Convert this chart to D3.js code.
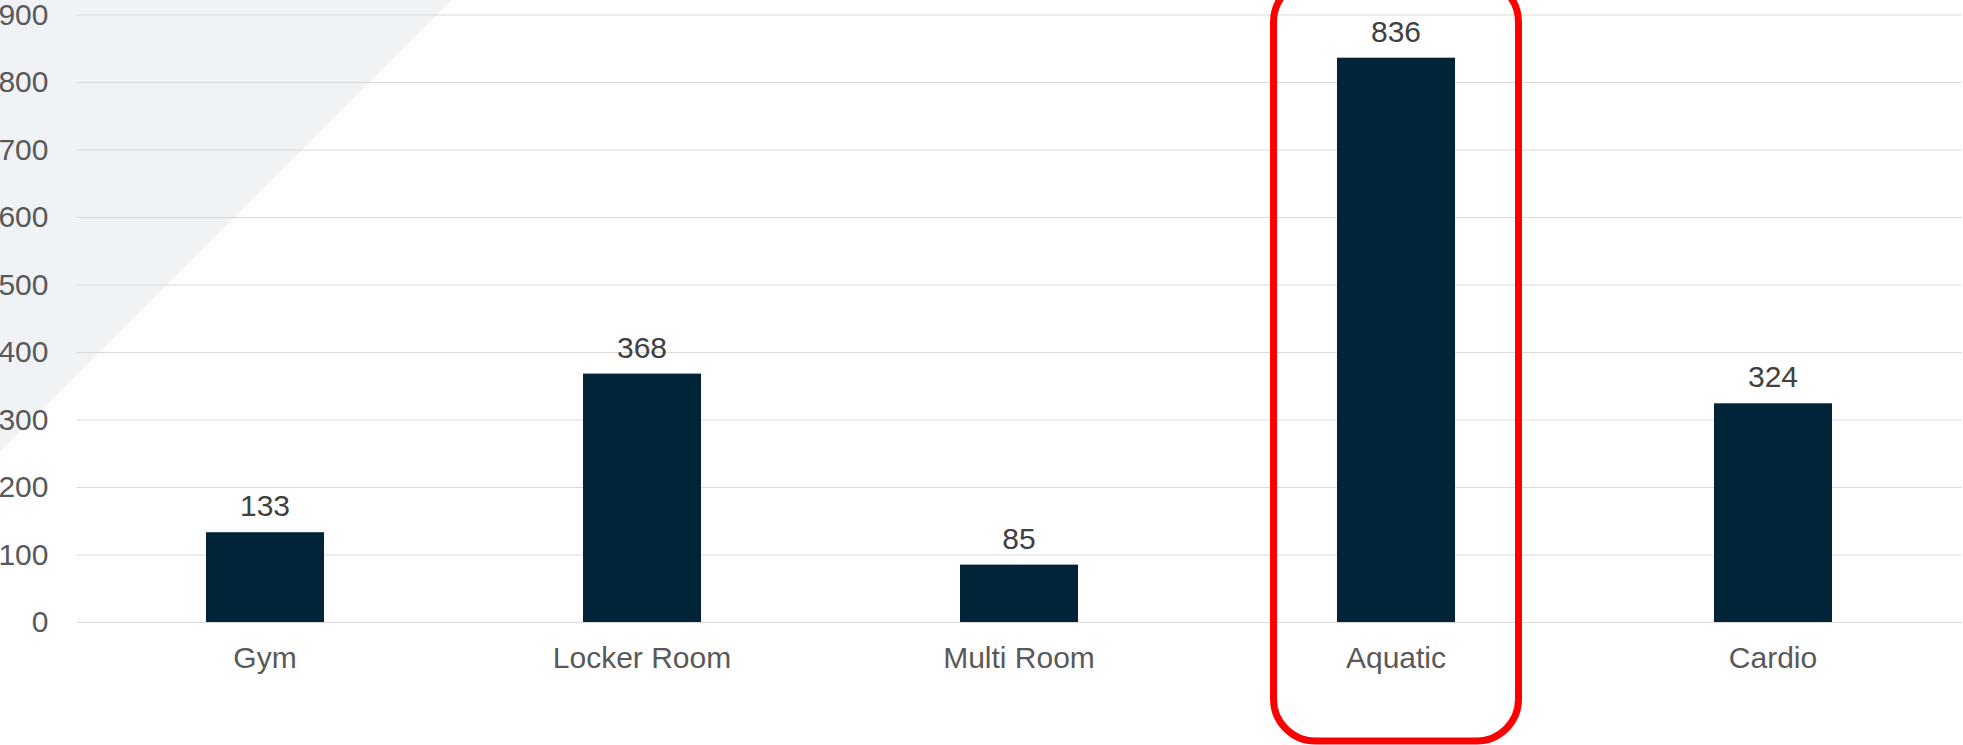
<!DOCTYPE html>
<html>
<head>
<meta charset="utf-8">
<script src="https://cdn.jsdelivr.net/npm/d3@7/dist/d3.min.js"></script>
<style>
  html, body { margin: 0; padding: 0; background: #ffffff; }
  svg { display: block; }
  text { font-family: "Liberation Sans", Arial, sans-serif; }
</style>
</head>
<body>
<svg id="chart" width="1963" height="745"></svg>
<script>
const categories = ["Gym", "Locker Room", "Multi Room", "Aquatic", "Cardio"];
const values = [133, 368, 85, 836, 324];
const yTicks = [0, 100, 200, 300, 400, 500, 600, 700, 800, 900];
const highlighted = "Aquatic";

const W = 1963, H = 745;
const svg = d3.select("#chart");

const x0 = 76.5, x1 = 1961.5;
const yBase = 622, yTop = 14.5;

const x = d3.scaleBand().domain(categories).range([x0, x1]).paddingInner(0.687).paddingOuter(0.3435);
const y = d3.scaleLinear().domain([0, 900]).range([yBase, yTop]);

// background triangle
svg.append("polygon")
  .attr("points", "0,0 452,0 0,452")
  .attr("fill", "#f0f3f6");

// gridlines
const yAxis = d3.axisLeft(y).tickValues(yTicks).tickSize(-(x1 - x0)).tickFormat(d3.format("d")).tickPadding(28);
const gAxis = svg.append("g").attr("transform", `translate(${x0},0)`).call(yAxis);
gAxis.select(".domain").remove();
gAxis.selectAll(".tick line").attr("stroke", "#d9d9d9").attr("stroke-width", 1.2);
gAxis.selectAll(".tick text")
  .attr("fill", "#595959")
  .attr("font-size", 30)
  .attr("font-family", "'Liberation Sans', Arial, sans-serif");

// bars
svg.append("g").selectAll("rect")
  .data(categories)
  .join("rect")
  .attr("x", (d) => x(d))
  .attr("width", x.bandwidth())
  .attr("y", (d, i) => y(values[i]))
  .attr("height", (d, i) => y(0) - y(values[i]))
  .attr("fill", "#022438");

// value labels
svg.append("g").selectAll("text")
  .data(categories)
  .join("text")
  .attr("x", (d) => x(d) + x.bandwidth() / 2)
  .attr("y", (d, i) => y(values[i]) - 16)
  .attr("text-anchor", "middle")
  .attr("font-size", 30)
  .attr("fill", "#404040")
  .text((d, i) => values[i]);

// category labels
const xAxis = d3.axisBottom(x).tickSize(0).tickPadding(0);
const gx = svg.append("g").attr("transform", `translate(0,${yBase})`).call(xAxis);
gx.select(".domain").remove();
gx.selectAll(".tick text")
  .attr("y", 46)
  .attr("dy", 0)
  .attr("fill", "#595959")
  .attr("font-size", 30)
  .attr("font-family", "'Liberation Sans', Arial, sans-serif");

// highlight box
const hx = x(highlighted) + x.bandwidth() / 2;
svg.append("rect")
  .attr("x", hx - 122.5)
  .attr("y", -20)
  .attr("width", 245)
  .attr("height", 761)
  .attr("rx", 42)
  .attr("ry", 42)
  .attr("fill", "none")
  .attr("stroke", "#ff0000")
  .attr("stroke-width", 7);
</script>
</body>
</html>
